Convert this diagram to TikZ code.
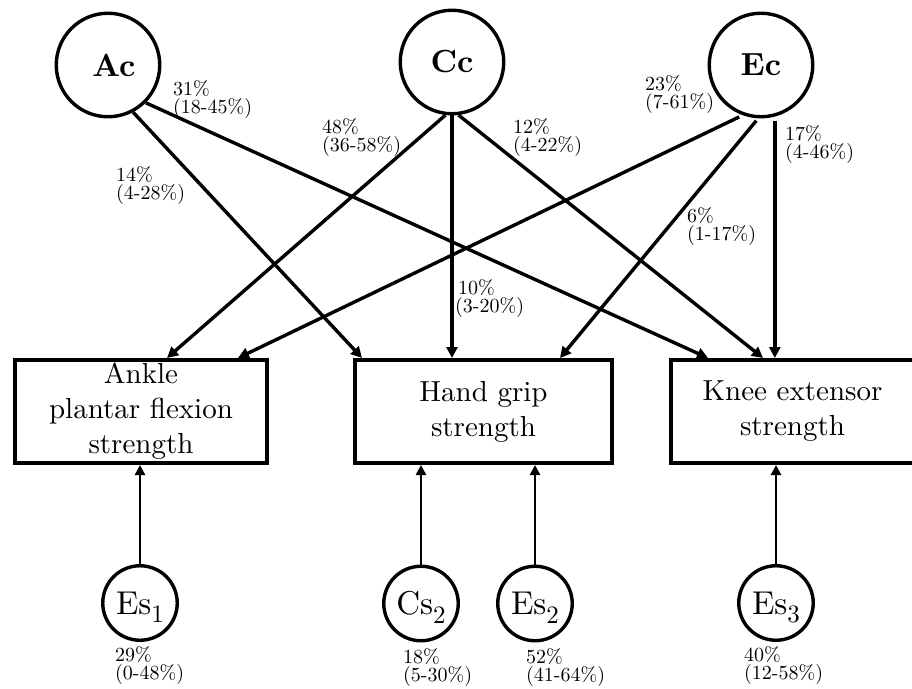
\documentclass[tikz,border=0pt]{standalone}
\usepackage{fontspec}
% design size 10 of Latin Modern, scaled up, for sturdier strokes
\setmainfont{lmroman10-regular.otf}[BoldFont=lmroman10-bold.otf]
\usetikzlibrary{arrows.meta}
\begin{document}
\begin{tikzpicture}[x=1pt,y=-1pt,
  latent/.style={circle,draw,line width=3.4pt,minimum size=103.5pt,inner sep=0pt,
    font=\fontsize{32}{32}\selectfont\bfseries},
  resid/.style={circle,draw,line width=3.4pt,minimum size=74.5pt,inner sep=0pt,
    font=\fontsize{33}{33}\selectfont},
  measure/.style={rectangle,draw,line width=4pt,minimum height=103pt,inner sep=0pt,
    align=center,font=\fontsize{29}{35}\selectfont},
  load/.style={line width=3.4pt,-{Triangle[length=11pt,width=11pt]}},
  specific/.style={line width=2.8pt,-{Triangle[length=10pt,width=10pt]}},
  pct/.style={anchor=north west,inner sep=0pt,align=left,
    font=\fontsize{20}{18.5}\selectfont}]
  \newcommand{\sub}[1]{\raisebox{-8.5pt}[0pt][0pt]{\fontsize{25}{25}\selectfont #1}}

  % canvas
  \fill[white] (0,0) rectangle (912,688);
  \useasboundingbox (0,0) rectangle (912,688);

  % common (shared) factors
  \node[latent] (Ac) at (108,65) {\hspace{12pt}Ac};
  \node[latent] (Cc) at (452,62) {Cc};
  \node[latent] (Ec) at (761,65) {Ec};

  % measured phenotypes
  \node[measure,minimum width=252pt] (Ankle) at (141,411.5) {Ankle\\plantar flexion\\strength};
  \node[measure,minimum width=257pt] (Grip) at (483.5,411.5) {Hand grip\\strength};
  \node[measure,minimum width=243pt] (Knee) at (792.5,411.5) {Knee extensor\\strength};

  % specific factors
  \node[resid] (Es1) at (140,603) {Es\sub{1}};
  \node[resid] (Cs2) at (421,603.5) {Cs\sub{2}};
  \node[resid] (Es2) at (535,603.5) {Es\sub{2}};
  \node[resid] (Es3) at (776,603) {Es\sub{3}};

  % loadings of the common factors
  \draw[load] (Ac.-62) -- ([xshift=9pt]Grip.north west);
  \draw[load] (Ac.-45) -- ([xshift=39pt]Knee.north west);
  \draw[load] (Cc.-97) -- ([xshift=154pt]Ankle.north west);
  \draw[load] (Cc.south) -- (Cc.south |- Grip.north);
  \draw[load] (Cc.-83) -- ([xshift=94pt]Knee.north west);
  \draw[load,shorten <=4pt] (Ec.-110) -- ([xshift=225pt]Ankle.north west);
  \draw[load,shorten <=3pt] (Ec.-93) -- ([xshift=207pt]Grip.north west);
  \draw[load,shorten <=4pt] (Ec.-75) -- (Ec.-75 |- Knee.north);

  % loadings of the specific factors
  \draw[specific] (Es1.north) -- (Es1.north |- Ankle.south);
  \draw[specific] (Cs2.north) -- (Cs2.north |- Grip.south);
  \draw[specific] (Es2.north) -- (Es2.north |- Grip.south);
  \draw[specific] (Es3.north) -- (Es3.north |- Knee.south);

  % variance proportions
  \node[pct] (p31) at (173,80) {31\%\\(18-45\%)};
  \node[pct] (p14) at (116,166) {14\%\\(4-28\%)};
  \node[pct] (p48) at (322,118) {48\%\\(36-58\%)};
  \node[pct] (p12) at (513,118) {12\%\\(4-22\%)};
  \node[pct] (p23) at (645,75) {23\%\\(7-61\%)};
  \node[pct] (p17) at (785,125) {17\%\\(4-46\%)};
  \node[pct] (p6) at (687,207) {6\%\\(1-17\%)};
  \node[pct] (p10) at (455,279) {\hspace{3pt}10\%\\(3-20\%)};
  \node[pct] (p29) at (115,646) {29\%\\(0-48\%)};
  \node[pct] (p18) at (403,648) {18\%\\(5-30\%)};
  \node[pct] (p52) at (526,648) {52\%\\(41-64\%)};
  \node[pct] (p40) at (744,646) {40\%\\(12-58\%)};
\end{tikzpicture}
\end{document}
